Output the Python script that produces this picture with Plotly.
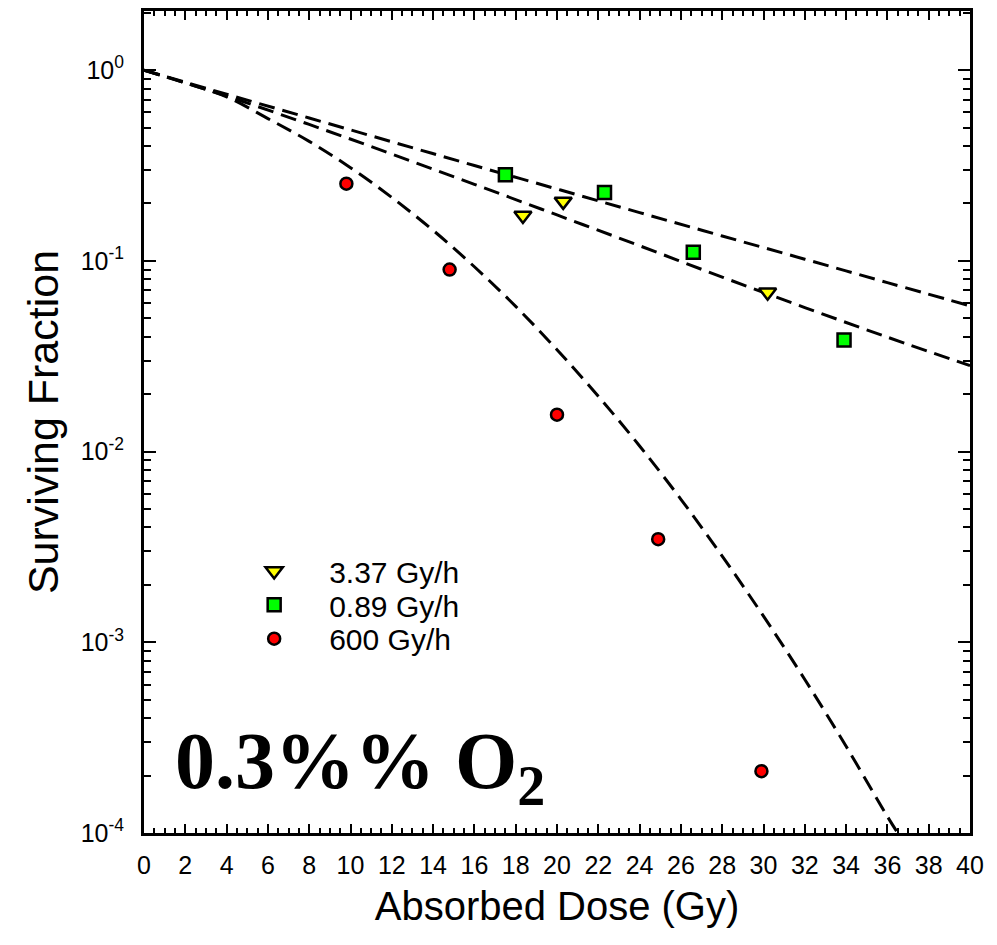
import plotly.graph_objects as go

# 测量点 (Gy, surviving fraction)
dose_337 = [18.35, 20.3, 30.2]
sf_337 = [0.173, 0.205, 0.0685]

dose_089 = [17.5, 22.3, 26.6, 33.9]
sf_089 = [0.283, 0.228, 0.111, 0.0385]

dose_600 = [9.8, 14.8, 20.0, 24.9, 29.9]
sf_600 = [0.254, 0.090, 0.0156, 0.00347, 0.000211]

# 拟合曲线（从图上读取的点）
fit_top_x = [0, 4, 8, 12, 16, 20, 24, 28, 32, 36, 40]
fit_top_y = [1.0, 0.748, 0.561, 0.421, 0.316, 0.238, 0.179, 0.135, 0.102, 0.0769, 0.0581]

fit_mid_x = [0, 4, 8, 12, 16, 20, 24, 28, 32, 36, 40]
fit_mid_y = [1.0, 0.731, 0.519, 0.363, 0.252, 0.174, 0.120, 0.0822, 0.0569, 0.0398, 0.0282]

fit_low_x = [0, 2, 4, 6, 8, 10, 12, 14, 16, 18, 20, 22, 24, 26, 28, 30, 32, 34, 36, 36.5]
fit_low_y = [1.0, 0.857, 0.724, 0.557, 0.423, 0.308, 0.215, 0.1445, 0.0931, 0.0577,
             0.0342, 0.0195, 0.0107, 0.00562, 0.00283, 0.00137, 0.000638, 0.000285,
             0.000122, 0.0001]

y_tickvals = [1e-4, 1e-3, 1e-2, 1e-1, 1]
y_ticktext = ["10<sup>-4</sup>", "10<sup>-3</sup>", "10<sup>-2</sup>",
              "10<sup>-1</sup>", "10<sup>0</sup>"]

fig = go.Figure()

dash = dict(color="black", width=3, dash="16px,8px")
for fx, fy in [(fit_top_x, fit_top_y), (fit_mid_x, fit_mid_y), (fit_low_x, fit_low_y)]:
    fig.add_trace(go.Scatter(x=fx, y=fy, mode="lines", line=dict(shape="spline", **dash),
                             showlegend=False, hoverinfo="skip"))

fig.add_trace(go.Scatter(x=dose_337, y=sf_337, mode="markers", name="3.37 Gy/h",
                         legend="legend",
                         marker=dict(symbol="triangle-down", size=15, color="#ffff00",
                                     line=dict(color="black", width=2.5))))
fig.add_trace(go.Scatter(x=dose_089, y=sf_089, mode="markers", name="0.89 Gy/h",
                         legend="legend2",
                         marker=dict(symbol="square", size=13, color="#00ff00",
                                     line=dict(color="black", width=2.5))))
fig.add_trace(go.Scatter(x=dose_600, y=sf_600, mode="markers", name="600 Gy/h",
                         legend="legend3",
                         marker=dict(symbol="circle", size=12, color="#ff0000",
                                     line=dict(color="black", width=2.5))))

fig.add_annotation(text="<b>0.3%% O<sub>2</sub></b>", xref="paper", yref="paper",
                   x=0.035, y=0.017, xanchor="left", yanchor="bottom", showarrow=False,
                   font=dict(family="Liberation Serif, Times New Roman, serif", size=80,
                             color="black"))

axis_common = dict(showline=True, linecolor="black", linewidth=3, mirror="allticks",
                   ticks="inside", tickcolor="black", tickwidth=2, showgrid=False,
                   zeroline=False)

fig.update_xaxes(range=[0, 40], dtick=2, tick0=0, ticklen=9,
                 tickfont=dict(size=25), ticklabelstandoff=8,
                 minor=dict(dtick=0.5, ticks="inside", ticklen=5, tickcolor="black",
                            tickwidth=2),
                 title=dict(text="Absorbed Dose (Gy)", font=dict(size=40), standoff=14),
                 **axis_common)
fig.update_yaxes(type="log", range=[-4, 0.31], tickvals=y_tickvals, ticktext=y_ticktext,
                 ticklen=12, tickfont=dict(size=25), ticklabelstandoff=12,
                 minor=dict(tickmode="linear", dtick="D1", ticks="inside", ticklen=7,
                            tickcolor="black", tickwidth=2, showgrid=False),
                 title=dict(text="Surviving Fraction", font=dict(size=43), standoff=9),
                 **axis_common)

leg = dict(x=0.091, xanchor="left", yanchor="middle", bgcolor="rgba(0,0,0,0)",
           font=dict(size=30), itemwidth=100)

fig.update_layout(
    width=989, height=937,
    margin=dict(l=136, r=27, t=0, b=112),
    paper_bgcolor="white", plot_bgcolor="white",
    font=dict(family="Arial, Liberation Sans, sans-serif", color="black"),
    legend=dict(y=0.3188, **leg),
    legend2=dict(y=0.2776, **leg),
    legend3=dict(y=0.2364, **leg),
)

fig.write_html("out.html")
